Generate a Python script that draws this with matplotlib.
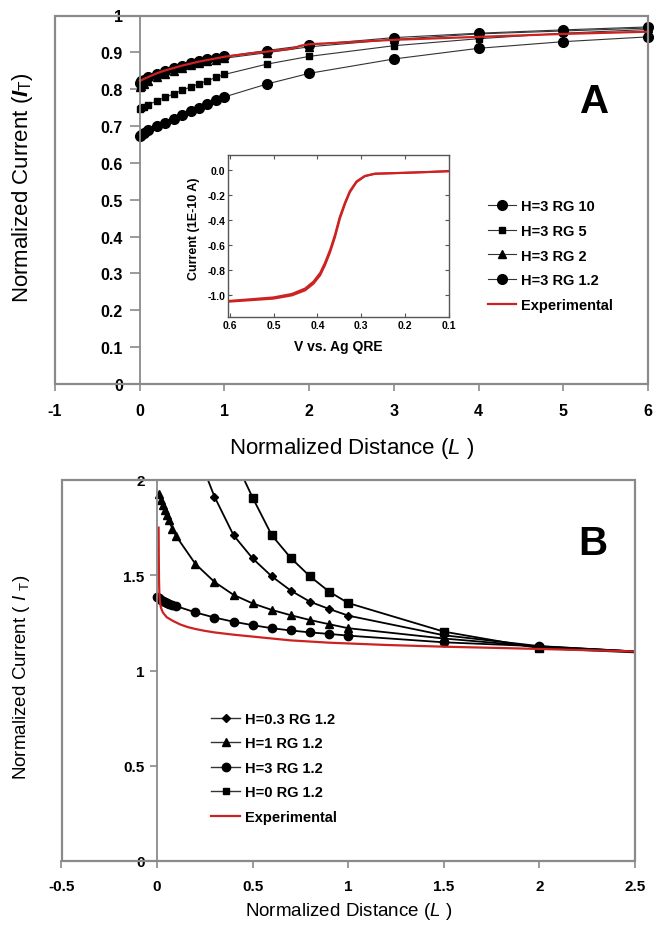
import matplotlib
matplotlib.use('Agg')
import matplotlib.pyplot as plt
from matplotlib.patches import Rectangle
from matplotlib.lines import Line2D

plt.rcParams['font.family'] = ['Liberation Sans', 'DejaVu Sans']
plt.rcParams['mathtext.fontset'] = 'custom'
plt.rcParams['mathtext.rm'] = 'Liberation Sans'
plt.rcParams['mathtext.it'] = 'Liberation Sans:italic'
plt.rcParams['mathtext.bf'] = 'Liberation Sans:bold:italic'

# ---------------- Panel A data ----------------
a_x = [0, 0.02, 0.05, 0.1, 0.2, 0.3, 0.4, 0.5, 0.6, 0.7, 0.8, 0.9, 1.0, 1.5, 2, 3, 4, 5, 6]
a_rg10 = [0.672, 0.676, 0.681, 0.688, 0.699, 0.709, 0.718, 0.730, 0.740, 0.750, 0.760, 0.770, 0.779, 0.814, 0.843, 0.882, 0.911, 0.929, 0.942]
a_rg5 = [0.745, 0.748, 0.752, 0.758, 0.768, 0.778, 0.787, 0.797, 0.806, 0.815, 0.823, 0.832, 0.840, 0.868, 0.889, 0.918, 0.937, 0.952, 0.962]
a_rg2 = [0.805, 0.810, 0.815, 0.822, 0.832, 0.842, 0.850, 0.858, 0.865, 0.871, 0.876, 0.880, 0.884, 0.899, 0.915, 0.935, 0.950, 0.958, 0.966]
a_rg12 = [0.817, 0.822, 0.826, 0.832, 0.841, 0.850, 0.857, 0.864, 0.870, 0.876, 0.881, 0.885, 0.889, 0.905, 0.920, 0.940, 0.952, 0.961, 0.969]
a_exp_x = [0, 0.05, 0.1, 0.2, 0.3, 0.5, 0.7, 1.0, 1.3, 1.5, 1.8, 1.9, 2.0, 2.5, 3, 3.5, 4, 4.5, 5, 5.5, 6]
a_exp_y = [0.822, 0.828, 0.833, 0.843, 0.851, 0.864, 0.875, 0.888, 0.897, 0.902, 0.910, 0.918, 0.922, 0.928, 0.934, 0.938, 0.942, 0.946, 0.950, 0.953, 0.956]
a_labels = ['H=3 RG 10', 'H=3 RG 5', 'H=3 RG 2', 'H=3 RG 1.2', 'Experimental']
a_xticks = [-1, 0, 1, 2, 3, 4, 5, 6]
a_yticks = [0, 0.1, 0.2, 0.3, 0.4, 0.5, 0.6, 0.7, 0.8, 0.9, 1]

# ---------------- Inset data ----------------
ins_v1 = [0.602, 0.55, 0.5, 0.458, 0.428, 0.409, 0.394, 0.383, 0.371, 0.36, 0.349, 0.337, 0.326, 0.311, 0.292, 0.269, 0.2, 0.15, 0.1]
ins_i1 = [-1.050, -1.038, -1.026, -1.000, -0.960, -0.907, -0.841, -0.762, -0.656, -0.537, -0.392, -0.272, -0.180, -0.100, -0.053, -0.034, -0.026, -0.020, -0.013]
ins_v2 = [0.602, 0.55, 0.5, 0.458, 0.428, 0.409, 0.394, 0.383, 0.371, 0.36, 0.349, 0.337, 0.326, 0.311, 0.292, 0.269, 0.2, 0.15, 0.1]
ins_i2 = [-1.044, -1.030, -1.016, -0.988, -0.945, -0.890, -0.822, -0.742, -0.636, -0.517, -0.375, -0.260, -0.170, -0.094, -0.050, -0.032, -0.025, -0.019, -0.012]
ins_xticks = [0.6, 0.5, 0.4, 0.3, 0.2, 0.1]
ins_yticks = [0.0, -0.2, -0.4, -0.6, -0.8, -1.0]

# ---------------- Panel B data ----------------
b_h03_x = [0.2, 0.3, 0.4, 0.5, 0.6, 0.7, 0.8, 0.9, 1.0, 1.5, 2.0, 2.5]
b_h03_y = [2.17, 1.913, 1.710, 1.588, 1.494, 1.419, 1.361, 1.323, 1.288, 1.185, 1.128, 1.100]
b_h1_x = [0.01, 0.02, 0.03, 0.04, 0.05, 0.06, 0.08, 0.1, 0.2, 0.3, 0.4, 0.5, 0.6, 0.7, 0.8, 0.9, 1.0, 1.5, 2.0, 2.5]
b_h1_y = [1.925, 1.895, 1.868, 1.842, 1.815, 1.790, 1.745, 1.705, 1.560, 1.465, 1.397, 1.352, 1.318, 1.290, 1.265, 1.243, 1.222, 1.168, 1.125, 1.100]
b_h3_x = [0, 0.01, 0.02, 0.03, 0.04, 0.05, 0.06, 0.08, 0.1, 0.2, 0.3, 0.4, 0.5, 0.6, 0.7, 0.8, 0.9, 1.0, 1.5, 2.0, 2.5]
b_h3_y = [1.385, 1.378, 1.372, 1.366, 1.360, 1.355, 1.350, 1.344, 1.338, 1.305, 1.278, 1.256, 1.238, 1.222, 1.210, 1.200, 1.192, 1.183, 1.148, 1.127, 1.100]
b_h0_x = [0.4, 0.5, 0.6, 0.7, 0.8, 0.9, 1.0, 1.5, 2.0, 2.5]
b_h0_y = [2.12, 1.907, 1.710, 1.590, 1.494, 1.414, 1.354, 1.204, 1.117, 1.095]
b_exp_x = [0.008, 0.009, 0.01, 0.012, 0.015, 0.02, 0.03, 0.05, 0.08, 0.12, 0.16, 0.2, 0.25, 0.3, 0.4, 0.5, 0.6, 0.7, 0.8, 0.9, 1.0, 1.2, 1.5, 1.8, 2.0, 2.2, 2.5]
b_exp_y = [1.75, 1.60, 1.48, 1.40, 1.36, 1.33, 1.305, 1.28, 1.262, 1.242, 1.228, 1.218, 1.208, 1.200, 1.188, 1.178, 1.168, 1.158, 1.152, 1.146, 1.142, 1.134, 1.125, 1.118, 1.113, 1.108, 1.100]
b_labels = ['H=0.3 RG 1.2', 'H=1 RG 1.2', 'H=3 RG 1.2', 'H=0 RG 1.2', 'Experimental']
b_xticks = [-0.5, 0, 0.5, 1, 1.5, 2, 2.5]
b_yticks = [0, 0.5, 1, 1.5, 2]

RED = '#cc2222'
FRAME = '#8a8a8a'

W, H = 654, 928
fig = plt.figure(figsize=(W / 100, H / 100), dpi=100)


def fx(px):
    return px / W


def fy(py):
    return 1 - py / H


def style_axes(ax, xticks, yticks, fmt_x, fmt_y, ypad, xpad, size):
    ax.spines['left'].set_position(('data', 0))
    for s in ['top', 'right']:
        ax.spines[s].set_visible(False)
    for s in ['left', 'bottom']:
        ax.spines[s].set_color(FRAME)
        ax.spines[s].set_linewidth(1.3)
    ax.add_patch(Rectangle((0, 0), 1, 1, transform=ax.transAxes, fill=False,
                           ec=FRAME, lw=1.6, clip_on=False, zorder=5))
    ax.set_xticks(xticks)
    ax.set_yticks(yticks)
    ax.set_xticklabels([fmt_x(v) for v in xticks])
    ax.set_yticklabels([fmt_y(v) for v in yticks])
    ax.tick_params(axis='both', direction='out', color=FRAME, width=1.2, length=5,
                   labelsize=size)
    ax.tick_params(axis='y', pad=ypad)
    ax.tick_params(axis='x', pad=xpad)
    for lab in ax.get_xticklabels() + ax.get_yticklabels():
        lab.set_fontweight('bold')


def fmt_g(v):
    return ('%g' % v)


# ================= Panel A =================
axA = fig.add_axes([fx(55), fy(385), fx(648) - fx(55), fy(16.5) - fy(385)])
axA.set_xlim(-1, 6)
axA.set_ylim(0, 1)
style_axes(axA, a_xticks, a_yticks, fmt_g, fmt_g, ypad=5, xpad=9, size=11.5)
axA.tick_params(axis='y', length=7)

lA1, = axA.plot(a_x, a_rg10, '-', color='#333333', lw=0.8, marker='o', ms=7, mfc='black', mec='black')
lA2, = axA.plot(a_x, a_rg5, '-', color='#333333', lw=0.8, marker='s', ms=4.8, mfc='black', mec='black')
lA3, = axA.plot(a_x, a_rg2, '-', color='#333333', lw=0.8, marker='^', ms=5.5, mfc='black', mec='black')
lA4, = axA.plot(a_x, a_rg12, '-', color='#333333', lw=0.8, marker='o', ms=7, mfc='black', mec='black')
lA5, = axA.plot(a_exp_x, a_exp_y, '-', color=RED, lw=1.6)
for l in (lA1, lA2, lA3, lA4, lA5):
    l.set_clip_on(False)

axA.set_xlabel(r'Normalized Distance ($\mathit{L}$ )', fontsize=16)
axA.xaxis.set_label_coords(0.5, (385 - 449) / 368.5)
axA.xaxis.label.set_va('center')
axA.set_ylabel(r'Normalized Current ($\mathbf{I}_{\mathrm{T}}$)', fontsize=16)
axA.yaxis.set_label_coords((23 - 55) / 593, (385 - 188) / 368.5)
axA.yaxis.label.set_va('center')

legA = axA.legend([lA1, lA2, lA3, lA4, lA5], a_labels, loc='upper left',
                  bbox_to_anchor=(fx(488), fy(200)), bbox_transform=fig.transFigure,
                  frameon=False, prop={'weight': 'bold', 'size': 10.5}, handlelength=1.9,
                  handletextpad=0.35, labelspacing=0.74, borderpad=0, borderaxespad=0,
                  numpoints=1)

fig.text(fx(595), fy(102), 'A', fontsize=29, fontweight='bold', ha='center', va='center')

# ================= Inset =================
axI = fig.add_axes([fx(228), fy(318), fx(449) - fx(228), fy(156) - fy(318)])
axI.set_xlim(0.604, 0.1)
axI.set_ylim(-1.172, 0.116)
axI.plot(ins_v1, ins_i1, '-', color=RED, lw=1.5)
axI.plot(ins_v2, ins_i2, '-', color=RED, lw=1.5)
axI.set_xticks(ins_xticks)
axI.set_xticklabels(['%.1f' % v for v in ins_xticks])
axI.set_yticks(ins_yticks)
axI.set_yticklabels(['%.1f' % v for v in ins_yticks])
axI.tick_params(axis='both', direction='in', top=True, right=True, length=3, width=0.8,
                color='#555555', labelsize=7.5, pad=2)
for lab in axI.get_xticklabels() + axI.get_yticklabels():
    lab.set_fontweight('bold')
for s in axI.spines.values():
    s.set_color('#555555')
    s.set_linewidth(1.0)
axI.set_xlabel('V vs. Ag QRE', fontsize=10, fontweight='bold')
axI.xaxis.set_label_coords(0.5, (318 - 347) / 162)
axI.xaxis.label.set_va('center')
axI.set_ylabel('Current (1E-10 A)', fontsize=9, fontweight='bold')
axI.yaxis.set_label_coords((194 - 228) / 221, (318 - 229) / 162)
axI.yaxis.label.set_va('center')

# ================= Panel B =================
axB = fig.add_axes([fx(61.5), fy(862), fx(635) - fx(61.5), fy(481) - fy(862)])
axB.set_xlim(-0.5, 2.5)
axB.set_ylim(0, 2)
style_axes(axB, b_xticks, b_yticks, fmt_g, fmt_g, ypad=4, xpad=8, size=11)

lw_b = 1.3
lB1, = axB.plot(b_h03_x, b_h03_y, '-', color='black', lw=lw_b, marker='D', ms=4.5,
                mfc='black', mec='black', markevery=list(range(0, len(b_h03_x) - 1)))
lB2, = axB.plot(b_h1_x, b_h1_y, '-', color='black', lw=lw_b, marker='^', ms=6,
                mfc='black', mec='black', markevery=list(range(0, len(b_h1_x) - 1)))
lB3, = axB.plot(b_h3_x, b_h3_y, '-', color='black', lw=lw_b, marker='o', ms=6,
                mfc='black', mec='black', markevery=list(range(0, len(b_h3_x) - 1)))
lB4, = axB.plot(b_h0_x, b_h0_y, '-', color='black', lw=lw_b, marker='s', ms=5.5,
                mfc='black', mec='black', markevery=list(range(0, len(b_h0_x) - 1)))
lB5, = axB.plot(b_exp_x, b_exp_y, '-', color=RED, lw=1.6)

axB.set_xlabel(r'Normalized Distance ($\mathit{L}$ )', fontsize=13.5)
axB.xaxis.set_label_coords(0.5, (862 - 912) / 381)
axB.xaxis.label.set_va('center')
axB.set_ylabel(r'Normalized Current ( $\mathit{I}$ $_{\mathrm{T}}$)', fontsize=13.5)
axB.yaxis.set_label_coords((22 - 61.5) / 573.5, (862 - 677) / 381)
axB.yaxis.label.set_va('center')

hB = [Line2D([], [], color='#333333', lw=1.0, marker='D', ms=4.5, mfc='black', mec='black'),
      Line2D([], [], color='#333333', lw=1.0, marker='^', ms=5.5, mfc='black', mec='black'),
      Line2D([], [], color='#333333', lw=1.0, marker='o', ms=6, mfc='black', mec='black'),
      Line2D([], [], color='#333333', lw=1.0, marker='s', ms=5, mfc='black', mec='black'),
      Line2D([], [], color=RED, lw=1.6)]
legB = axB.legend(hB, b_labels, loc='upper left',
                  bbox_to_anchor=(fx(211), fy(713)), bbox_transform=fig.transFigure,
                  frameon=False, prop={'weight': 'bold', 'size': 10.5}, handlelength=2.0,
                  handletextpad=0.35, labelspacing=0.72, borderpad=0, borderaxespad=0,
                  numpoints=1)

fig.text(fx(593), fy(544), 'B', fontsize=29, fontweight='bold', ha='center', va='center')

fig.savefig('out.png', dpi=100)
